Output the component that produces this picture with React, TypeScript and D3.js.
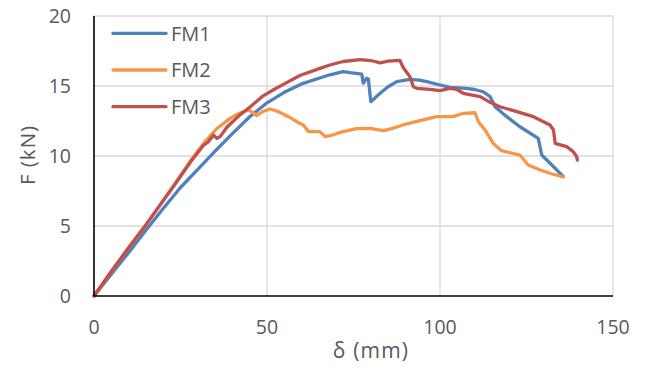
import React from "react";
import * as d3 from "d3";

const seriesNames = ["FM1", "FM2", "FM3"];
const seriesColors = ["#4F81BD", "#F79646", "#C0504D"];

const xTicks = [0, 50, 100, 150];
const yTicks = [0, 5, 10, 15, 20];

// [δ (mm), F (kN)]
const fm1: [number, number][] = [
  [0, 0], [5, 1.55], [10, 3.1], [15, 4.7], [20, 6.25], [25, 7.75], [30, 9.05],
  [35, 10.35], [40, 11.6], [45, 12.8], [50, 13.8], [55, 14.55], [60, 15.15],
  [65, 15.55], [68.2, 15.8], [72, 16.02], [74, 15.95], [77.4, 15.85],
  [77.8, 15.2], [78.8, 15.55], [79.3, 15.5], [80, 13.88], [82.7, 14.48], [85, 14.95],
  [87.5, 15.31], [91.3, 15.48], [94, 15.42], [96.2, 15.31], [100, 15.07], [102.9, 14.9],
  [107.7, 14.83], [110, 14.75], [112.5, 14.59], [114.5, 14.24], [115.9, 13.52],
  [119.3, 12.81], [123.1, 12.09], [128.4, 11.26], [129.4, 10.07], [131.8, 9.48],
  [135.6, 8.55],
];

const fm2: [number, number][] = [
  [0, 0], [5, 1.75], [10, 3.45], [15.2, 5.15], [22.9, 7.85], [28, 9.7], [32, 11.0],
  [35.5, 11.95], [39.3, 12.69], [42, 13.05], [44.6, 13.29], [46, 13.1], [47, 12.88],
  [49, 13.2], [50.9, 13.36], [53.3, 13.17], [56.2, 12.81], [58.6, 12.45], [60.5, 12.21],
  [62, 11.74], [65.3, 11.74], [66.8, 11.38], [69, 11.5], [71.1, 11.69], [75.9, 11.95],
  [79.8, 11.98], [83.6, 11.81], [86, 11.95], [90.4, 12.3], [94.2, 12.52], [99, 12.81],
  [103.8, 12.81], [106.7, 13.05], [110.1, 13.09], [111.1, 12.45], [113, 11.86],
  [115.4, 10.9], [117.8, 10.38], [120, 10.25], [123.1, 10.07], [125.5, 9.36],
  [128.9, 9.0], [132, 8.75], [135.6, 8.5],
];

const fm3: [number, number][] = [
  [0, 0], [5, 1.75], [10, 3.45], [15.2, 5.15], [22.9, 7.8], [28, 9.6], [31.6, 10.75],
  [33, 11.0], [34.5, 11.5], [35.5, 11.26], [36.5, 11.4], [38.4, 12.05], [40.3, 12.5],
  [42, 12.9], [45.1, 13.5], [48.9, 14.3], [52, 14.75], [55, 15.15], [59.5, 15.75],
  [65.3, 16.26], [68.2, 16.5], [72, 16.75], [76.9, 16.88], [80, 16.82], [82.7, 16.65],
  [85, 16.78], [88.4, 16.83], [89.4, 16.3], [91.3, 15.67], [92.3, 14.95], [93.3, 14.83],
  [97.1, 14.76], [100, 14.67], [102.9, 14.83], [104.8, 14.76], [106.7, 14.48],
  [111.6, 14.24], [114, 13.9], [117.3, 13.52], [122.2, 13.17], [127, 12.81],
  [131.8, 12.21], [132.8, 11.86], [133.3, 10.9], [136.6, 10.67], [138.5, 10.31],
  [139.5, 9.95], [139.7, 9.71],
];

const seriesData = [fm1, fm2, fm3];

const W = 651;
const H = 367;
const left = 94, right = 613, top = 16, bottom = 296;

export default function App() {
  const x = d3.scaleLinear().domain([0, 150]).range([left, right]);
  const y = d3.scaleLinear().domain([0, 20]).range([bottom, top]);
  const line = d3
    .line<[number, number]>()
    .x((d) => x(d[0]))
    .y((d) => y(d[1]))
    .curve(d3.curveLinear);

  const font = "'Open Sans', 'Liberation Sans', sans-serif";
  const textColor = "#595959";
  const grid = "#d9d9d9";

  return (
    <svg
      width={W}
      height={H}
      style={{ position: "absolute", left: 0, top: 0, background: "#fff" }}
      fontFamily={font}
    >
      <rect x={0} y={0} width={W} height={H} fill="#fff" />
      {/* gridlines */}
      {yTicks.filter((t) => t > 0).map((t) => (
        <line key={"gy" + t} x1={left} x2={right} y1={y(t)} y2={y(t)} stroke={grid} strokeWidth={1.3} />
      ))}
      {xTicks.filter((t) => t > 0).map((t) => (
        <line key={"gx" + t} x1={x(t)} x2={x(t)} y1={top} y2={bottom} stroke={grid} strokeWidth={1.3} />
      ))}
      {/* series */}
      {seriesData.map((d, i) => (
        <path
          key={seriesNames[i]}
          d={line(d) || ""}
          fill="none"
          stroke={seriesColors[i]}
          strokeWidth={3.3}
          strokeLinejoin="round"
          strokeLinecap="round"
        />
      ))}
      {/* axes */}
      <line x1={left} x2={left} y1={top} y2={bottom} stroke="#000" strokeWidth={1.6} />
      <line x1={left} x2={right} y1={bottom} y2={bottom} stroke="#000" strokeWidth={1.6} />
      {/* tick labels */}
      {yTicks.map((t) => (
        <text key={"ty" + t} x={71} y={y(t)} dy="0.36em" textAnchor="end" fontSize={19.5} fill={textColor}>
          {t}
        </text>
      ))}
      {xTicks.map((t) => (
        <text key={"tx" + t} x={x(t)} y={334} textAnchor="middle" fontSize={19.5} fill={textColor}>
          {t}
        </text>
      ))}
      {/* axis titles */}
      <text x={371} y={358} textAnchor="middle" fontSize={21} letterSpacing={1.2} fill={textColor}>
        δ (mm)
      </text>
      <text
        transform={`translate(35,155) rotate(-90)`}
        textAnchor="middle"
        fontSize={20.5}
        letterSpacing={1}
        fill={textColor}
      >
        F (kN)
      </text>
      {/* legend */}
      {seriesNames.map((n, i) => {
        const ly = 33.3 + i * 36.7;
        return (
          <g key={"lg" + n}>
            <line x1={113} x2={166} y1={ly} y2={ly} stroke={seriesColors[i]} strokeWidth={3.3} strokeLinecap="round" />
            <text x={171} y={ly} dy="0.36em" fontSize={20} fill={textColor}>
              {n}
            </text>
          </g>
        );
      })}
    </svg>
  );
}
